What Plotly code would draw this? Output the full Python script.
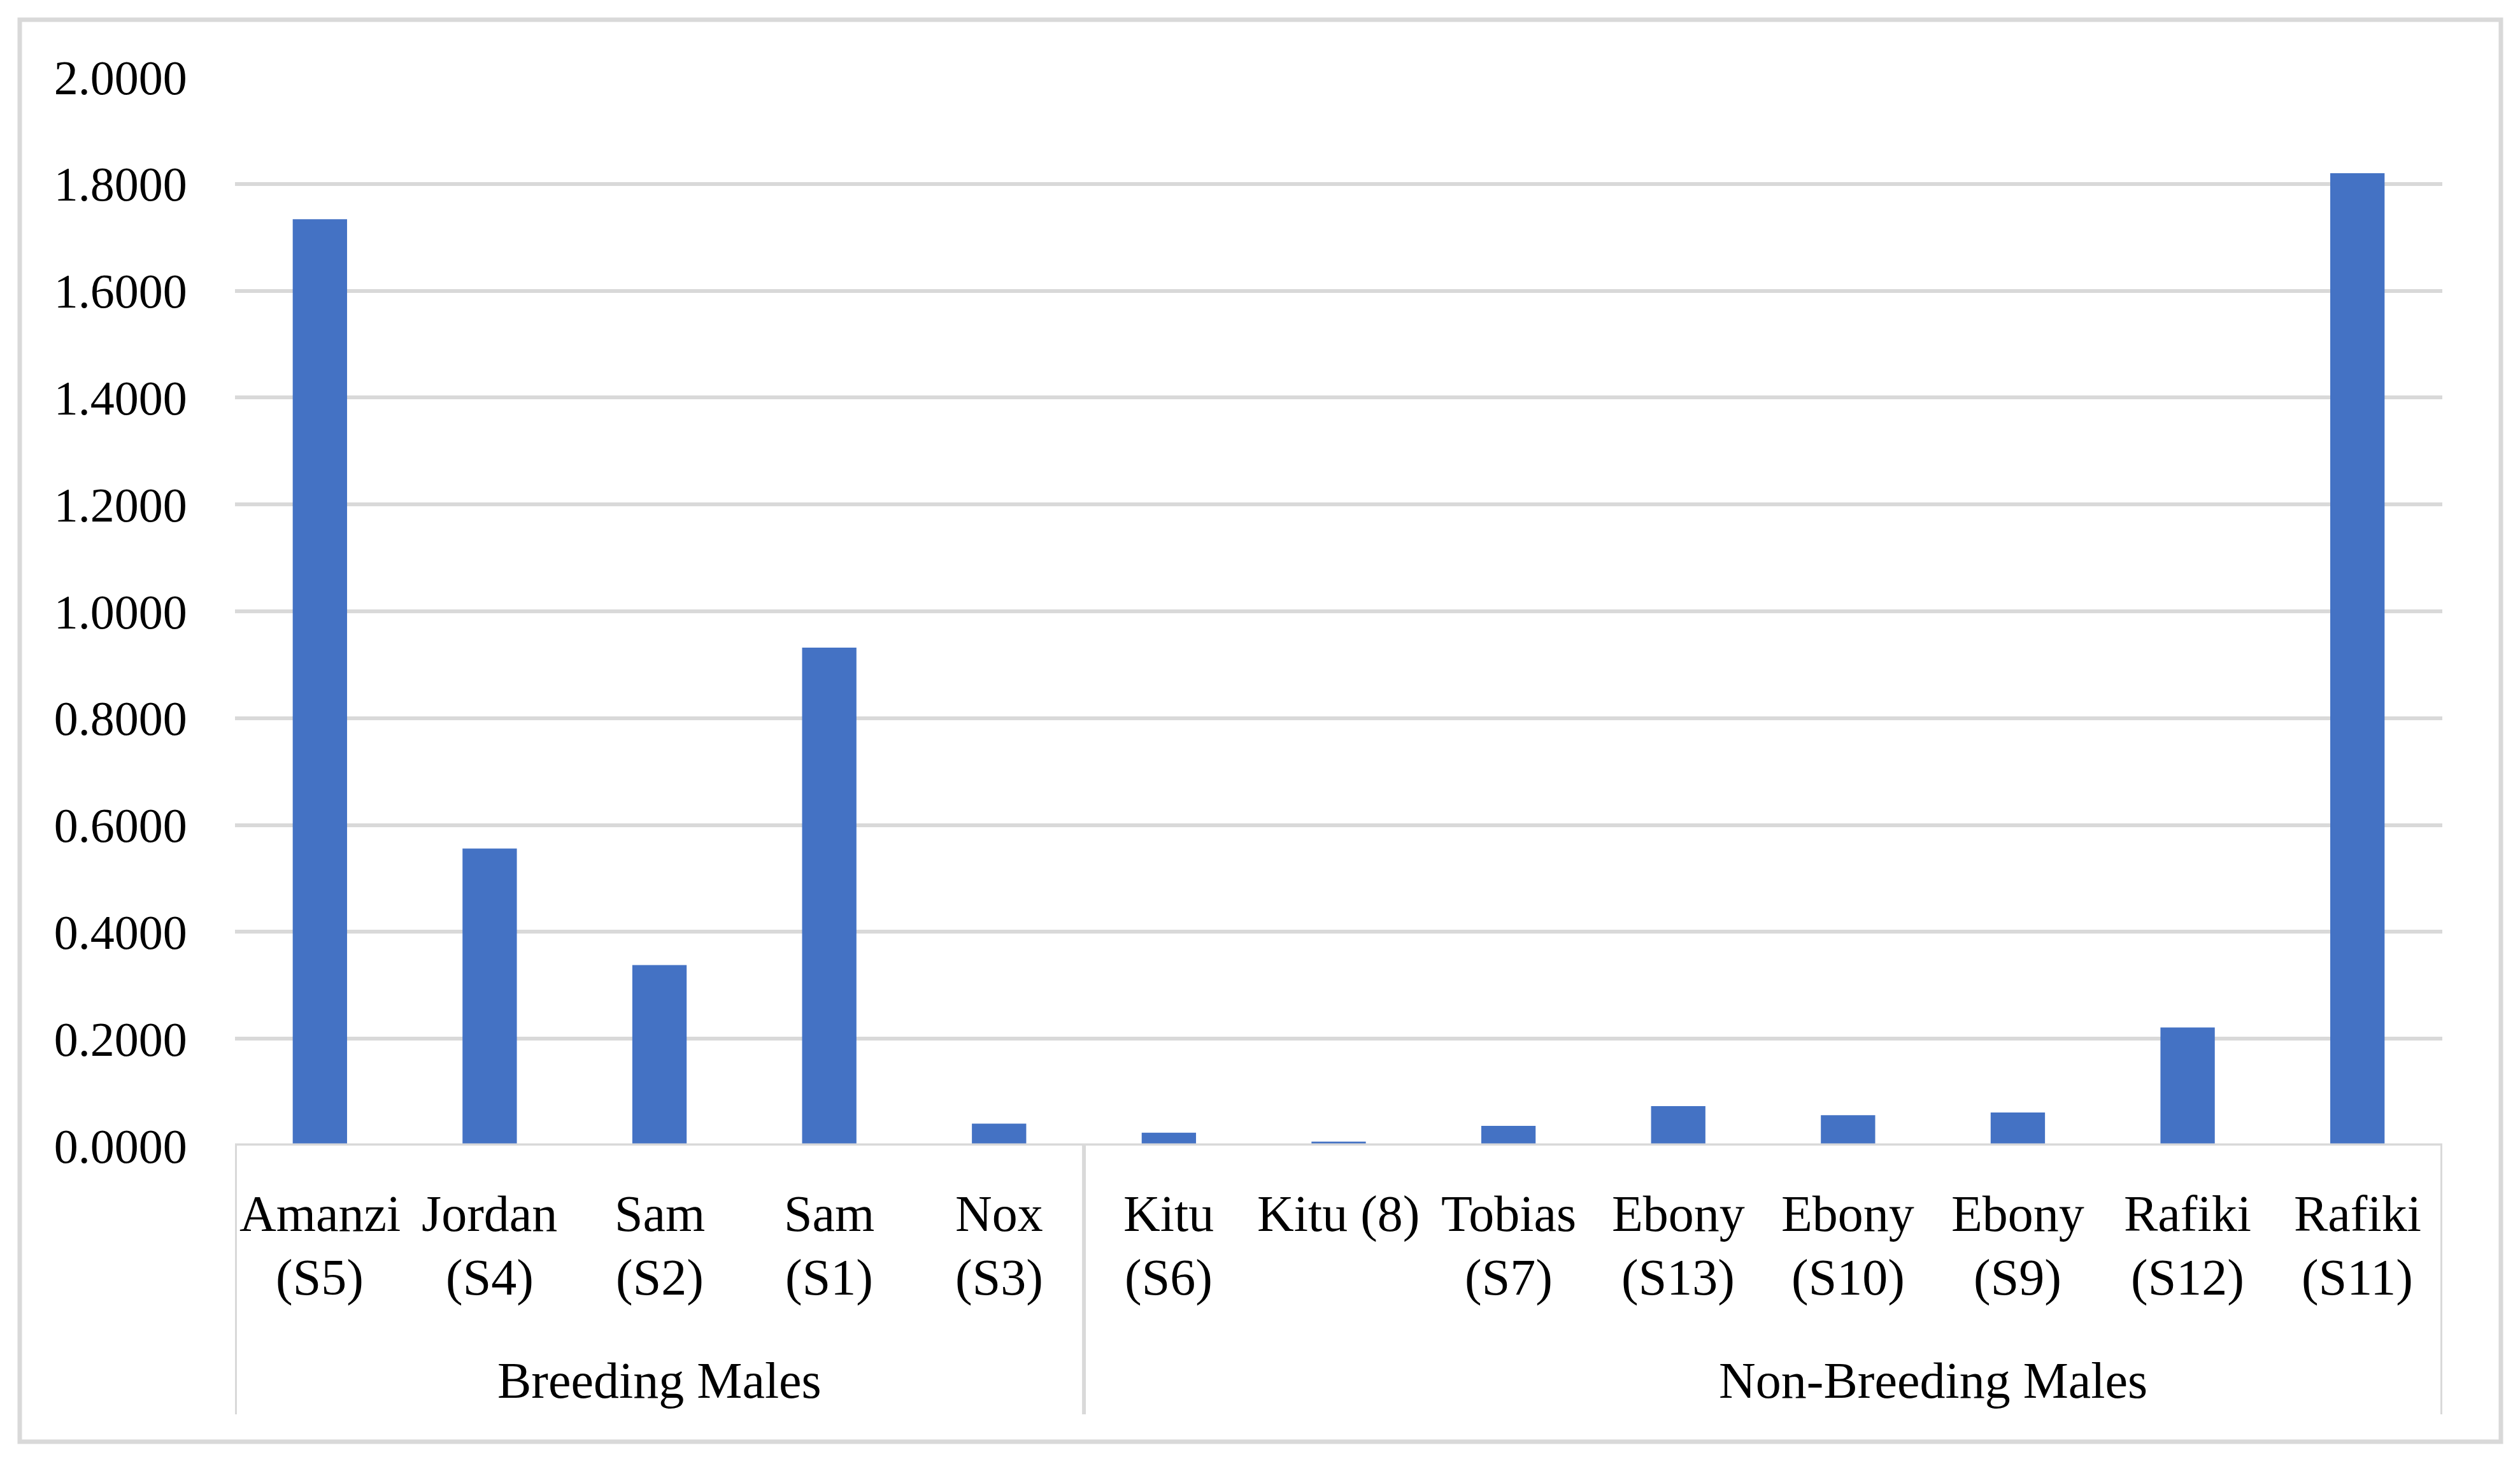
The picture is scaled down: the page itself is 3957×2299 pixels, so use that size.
import plotly.graph_objects as go

# ---- data ----
names = ["Amanzi", "Jordan", "Sam", "Sam", "Nox", "Kitu", "Kitu (8)", "Tobias",
         "Ebony", "Ebony", "Ebony", "Rafiki", "Rafiki"]
codes = ["(S5)", "(S4)", "(S2)", "(S1)", "(S3)", "(S6)", "", "(S7)",
         "(S13)", "(S10)", "(S9)", "(S12)", "(S11)"]
values = [1.734, 0.556, 0.338, 0.932, 0.041, 0.024, 0.0075, 0.037,
          0.074, 0.057, 0.062, 0.221, 1.820]
groups = ["Breeding Males", "Non-Breeding Males"]
group_spans = [(0, 4), (5, 12)]
y_ticks = [0.0, 0.2, 0.4, 0.6, 0.8, 1.0, 1.2, 1.4, 1.6, 1.8, 2.0]

# ---- layout geometry (page pixels; body margin of 8px compensated) ----
OFF = 8
W, H = 3957 - 2 * OFF, 2299 - 2 * OFF
L, R, T, B = 369 - OFF, 3835 - OFF, 121 - OFF, 1799 - OFF
PW, PH = R - L, B - T

def py(px):  # page pixel y -> paper y
    return (B - (px - OFF)) / PH

def pxx(px):  # page pixel x -> paper x
    return ((px - OFF) - L) / PW

FONT = "Liberation Serif"
FS = 80
GRID = "#D9D9D9"

x = list(range(len(values)))

fig = go.Figure()
fig.add_trace(go.Bar(x=x, y=values, width=0.32, marker=dict(color="#4472C4", line=dict(width=0)),
                     showlegend=False))

annotations = []
for i, (n, c) in enumerate(zip(names, codes)):
    annotations.append(dict(x=i, xref="x", y=py(1906), yref="paper", text=n, showarrow=False,
                            xanchor="center", yanchor="middle",
                            font=dict(family=FONT, size=FS, color="black")))
    if c:
        annotations.append(dict(x=i, xref="x", y=py(2007), yref="paper", text=c, showarrow=False,
                                xanchor="center", yanchor="middle",
                                font=dict(family=FONT, size=FS, color="black")))

group_label_x = [2, 9.5]
for g, gx in zip(groups, group_label_x):
    annotations.append(dict(x=gx, xref="x", y=py(2168), yref="paper", text=g, showarrow=False,
                            xanchor="center", yanchor="middle",
                            font=dict(family=FONT, size=FS, color="black")))

shapes = []
bounds = [group_spans[0][0] - 0.5] + [s[1] + 0.5 for s in group_spans]
for bx in bounds:
    shapes.append(dict(type="line", xref="x", yref="paper", x0=bx, x1=bx, y0=0, y1=py(2221),
                       line=dict(color=GRID, width=6), layer="above"))
shapes.append(dict(type="line", xref="paper", yref="y", x0=0, x1=1, y0=0, y1=0,
                   line=dict(color=GRID, width=7), layer="above"))
shapes.append(dict(type="rect", xref="paper", yref="paper",
                   x0=pxx(31), x1=pxx(3927), y0=py(31), y1=py(2264),
                   line=dict(color=GRID, width=7), fillcolor="rgba(0,0,0,0)", layer="below"))

fig.update_layout(
    width=W, height=H,
    margin=dict(l=L, r=W - R, t=T, b=H - B, pad=0),
    paper_bgcolor="white", plot_bgcolor="white",
    xaxis=dict(range=[-0.5, 12.5], showticklabels=False, showgrid=False, zeroline=False,
               showline=False, ticks="", fixedrange=True),
    yaxis=dict(range=[0, 2.0], tickvals=y_ticks, tickformat=".4f", showgrid=True,
               gridcolor=GRID, gridwidth=6, zeroline=False, showline=False,
               ticks="outside", ticklen=59, tickcolor="rgba(0,0,0,0)",
               tickfont=dict(family=FONT, size=76, color="black")),
    annotations=annotations,
    shapes=shapes,
)

fig.write_html("out.html")
